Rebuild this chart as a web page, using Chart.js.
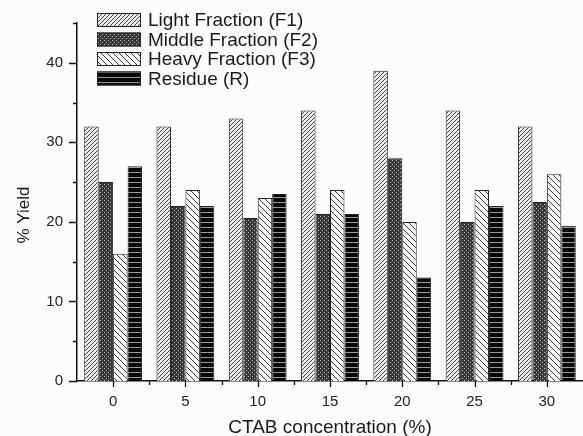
<!DOCTYPE html>
<html>
<head>
<meta charset="utf-8">
<script src="https://cdn.jsdelivr.net/npm/chart.js@4/dist/chart.umd.min.js"></script>
<style>
  html, body { margin: 0; padding: 0; background: #fcfcfc; }
  #wrap { width: 583px; height: 436px; position: relative; }
</style>
</head>
<body>
<div id="wrap"><canvas id="c" width="583" height="436"></canvas></div>
<script>
// --- data ---
const categories = ['0', '5', '10', '15', '20', '25', '30'];
const seriesNames = ['Light Fraction (F1)', 'Middle Fraction (F2)', 'Heavy Fraction (F3)', 'Residue (R)'];
const lightF1 = [32, 32, 33, 34, 39, 34, 32];
const middleF2 = [25, 22, 20.5, 21, 28, 20, 22.5];
const heavyF3 = [16, 24, 23, 24, 20, 24, 26];
const residueR = [27, 22, 23.5, 21, 13, 22, 19.5];
const yMin = 0, yMax = 45, yStep = 10;
const yTitle = '% Yield';
const xTitle = 'CTAB concentration (%)';

const FONT = '"Liberation Sans", Arial, sans-serif';

// --- hatch patterns ---
function makePattern(size, draw) {
  const cv = document.createElement('canvas');
  cv.width = size; cv.height = size;
  const g = cv.getContext('2d');
  draw(g, size);
  return g.createPattern(cv, 'repeat');
}
const ctxMain = document.getElementById('c').getContext('2d');

const patF1 = makePattern(4, (g, s) => {
  g.fillStyle = '#ececec'; g.fillRect(0, 0, s, s);
  g.strokeStyle = '#444'; g.lineWidth = 1;
  g.beginPath();
  g.moveTo(-1, s + 1); g.lineTo(s + 1, -1);
  g.moveTo(-1, 1); g.lineTo(1, -1);
  g.moveTo(s - 1, s + 1); g.lineTo(s + 1, s - 1);
  g.stroke();
});
const patF2 = makePattern(4, (g, s) => {
  g.fillStyle = '#383838'; g.fillRect(0, 0, s, s);
  g.fillStyle = '#b5b5b5';
  g.fillRect(0, 0, 1, 1);
  g.fillRect(2, 2, 1, 1);
});
const patF3 = makePattern(6, (g, s) => {
  g.fillStyle = '#fafafa'; g.fillRect(0, 0, s, s);
  g.strokeStyle = '#333'; g.lineWidth = 1;
  g.beginPath();
  g.moveTo(-1, -1); g.lineTo(s + 1, s + 1);
  g.moveTo(s - 1, -1); g.lineTo(s + 1, 1);
  g.moveTo(-1, s - 1); g.lineTo(1, s + 1);
  g.stroke();
});
const patR = makePattern(5, (g, s) => {
  g.fillStyle = '#080808'; g.fillRect(0, 0, s, s);
  g.fillStyle = '#9a9a9a'; g.fillRect(0, 2, s, 1);
});
const patterns = [patF1, patF2, patF3, patR];
const seriesValues = [lightF1, middleF2, heavyF3, residueR];

// --- custom legend, y title + ticks ---
const legendPlugin = {
  id: 'boxLegend',
  afterDraw(chart) {
    const ctx = chart.ctx;
    ctx.save();
    chart.data.datasets.forEach((ds, i) => {
      const top = 13 + i * 19.5;
      ctx.fillStyle = ds.backgroundColor;
      ctx.fillRect(97, top, 44, 14);
      ctx.strokeStyle = '#222'; ctx.lineWidth = 1;
      ctx.strokeRect(97.5, top + 0.5, 43, 13);
      ctx.fillStyle = '#1a1a1a';
      ctx.font = '19px ' + FONT;
      ctx.textBaseline = 'middle';
      ctx.fillText(ds.label, 148, top + 8);
    });
    // y axis title
    ctx.translate(24, 215);
    ctx.rotate(-Math.PI / 2);
    ctx.textAlign = 'center';
    ctx.font = '17px ' + FONT;
    ctx.fillText(yTitle, 0, 0);
    ctx.restore();
  }
};

const tickPlugin = {
  id: 'axisTicks',
  afterDraw(chart) {
    const { ctx, scales: { x, y } } = chart;
    ctx.save();
    ctx.strokeStyle = '#111'; ctx.lineWidth = 1.3;
    ctx.beginPath();
    for (let v = yMin; v <= yMax; v += yStep / 2) {
      const py = Math.round(y.getPixelForValue(v)) + 0.5;
      const len = v % yStep === 0 ? 8 : 4;
      ctx.moveTo(x.left - len, py); ctx.lineTo(x.left, py);
    }
    const base = y.bottom;
    for (let i = 0; i < categories.length; i++) {
      const px = Math.round(x.getPixelForValue(i)) + 0.5;
      ctx.moveTo(px, base); ctx.lineTo(px, base + 6);
      if (i < categories.length - 1) {
        const mx = Math.round((x.getPixelForValue(i) + x.getPixelForValue(i + 1)) / 2) + 0.5;
        ctx.moveTo(mx, base); ctx.lineTo(mx, base + 4);
      }
    }
    ctx.stroke();
    ctx.restore();
  }
};

new Chart(ctxMain, {
  type: 'bar',
  data: {
    labels: categories,
    datasets: seriesNames.map((name, i) => ({
      label: name,
      data: seriesValues[i],
      backgroundColor: patterns[i],
      borderColor: '#222',
      borderWidth: 1,
      borderSkipped: 'bottom',
      categoryPercentage: 0.8,
      barPercentage: 1.0
    }))
  },
  options: {
    responsive: false,
    animation: false,
    layout: { padding: { top: 20, right: 0, left: 0, bottom: 0 } },
    plugins: { legend: { display: false }, tooltip: { enabled: false } },
    scales: {
      x: {
        grid: { display: false, drawTicks: false },
        border: { color: '#111', width: 1.5 },
        ticks: { color: '#222', font: { family: FONT, size: 15 }, padding: 12, maxRotation: 0 },
        title: { display: true, text: xTitle, color: '#1a1a1a', font: { family: FONT, size: 19 }, padding: { top: 0, bottom: -3 } },
        afterFit(scale) { scale.height = 55; }
      },
      y: {
        min: yMin, max: yMax,
        grid: { display: false, drawTicks: false },
        border: { color: '#111', width: 1.5 },
        ticks: { stepSize: yStep, includeBounds: false, color: '#222', font: { family: FONT, size: 15 }, padding: 14 },
        afterFit(scale) { scale.width = 77; }
      }
    }
  },
  plugins: [legendPlugin, tickPlugin]
});
</script>
</body>
</html>
